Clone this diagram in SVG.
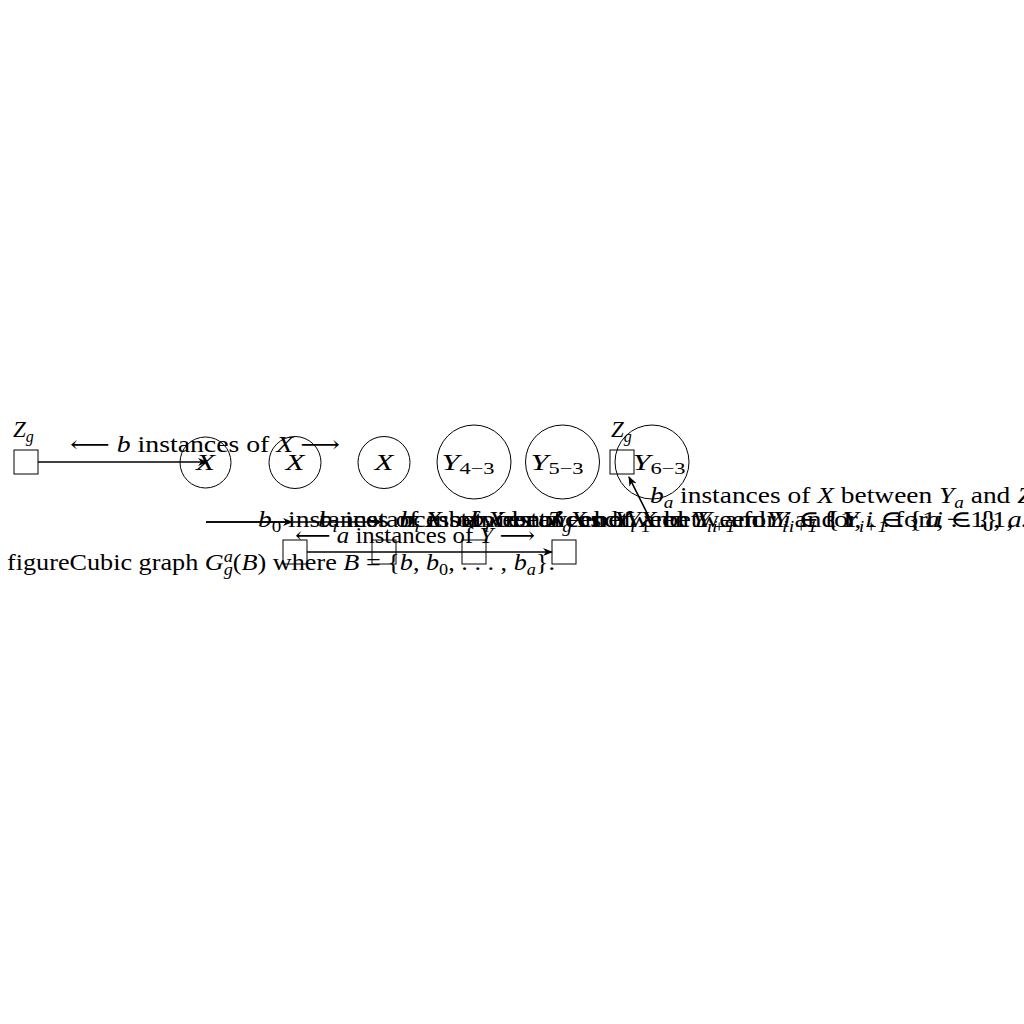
<svg xmlns="http://www.w3.org/2000/svg" width="1024" height="1024" viewBox="0 0 1024 1024">
<style>
text{font-family:"Liberation Serif","DejaVu Serif",serif;font-size:23px;fill:#000}
.i{font-style:italic}
.s{font-size:16px}
.c{text-anchor:middle}
.n{fill:none;stroke:#000;stroke-width:1}
.e{fill:none;stroke:#000;stroke-width:1.6;marker-end:url(#ah)}
</style>
<defs>
<marker id="ah" viewBox="0 0 10 8" refX="9" refY="4" markerWidth="10" markerHeight="8" orient="auto" markerUnits="userSpaceOnUse">
<path d="M0,0 L10,4 L0,8 L3,4 z" fill="#000"/>
</marker>
</defs>
<rect width="1024" height="1024" fill="#fff"/>

<g id="zg1"><rect class="n" x="14" y="450" width="24" height="24"/><text x="13" y="437" class="i">Z<tspan class="s" dy="5">g</tspan></text></g>
<g id="x1"><circle class="n" cx="205.5" cy="462.5" r="25.5"/><text x="205.5" y="470" class="i c" textLength="19" lengthAdjust="spacingAndGlyphs">X</text></g>
<g id="x2"><circle class="n" cx="295" cy="462.5" r="26"/><text x="295" y="470" class="i c" textLength="19" lengthAdjust="spacingAndGlyphs">X</text></g>
<g id="x3"><circle class="n" cx="384" cy="462.5" r="26"/><text x="384" y="470" class="i c" textLength="19" lengthAdjust="spacingAndGlyphs">X</text></g>
<g id="y4"><circle class="n" cx="474" cy="462" r="37"/><text x="468" y="470" class="c" textLength="53" lengthAdjust="spacingAndGlyphs"><tspan class="i">Y</tspan><tspan class="s" dy="4">4−3</tspan></text></g>
<g id="y5"><circle class="n" cx="562.5" cy="462" r="37"/><text x="557" y="470" class="c" textLength="53" lengthAdjust="spacingAndGlyphs"><tspan class="i">Y</tspan><tspan class="s" dy="4">5−3</tspan></text></g>
<g id="y6"><circle class="n" cx="652" cy="462" r="37"/><text x="659" y="470" class="c" textLength="53" lengthAdjust="spacingAndGlyphs"><tspan class="i">Y</tspan><tspan class="s" dy="4">6−3</tspan></text></g>
<g id="zg2"><rect class="n" x="610" y="450" width="24" height="24"/><text x="611" y="437" class="i">Z<tspan class="s" dy="5">g</tspan></text></g>
<g id="s1"><rect class="n" x="283" y="540" width="24" height="24"/></g>
<g id="s2"><rect class="n" x="372" y="540" width="24" height="24"/></g>
<g id="s3"><rect class="n" x="462" y="540" width="24" height="24"/></g>
<g id="s4"><rect class="n" x="552" y="540" width="24" height="24"/></g>

<g id="connectors">
<path class="e" d="M38,462 L207,462"/>
<path class="e" d="M206,522 L292,522"/>
<path class="e" d="M206,522 L382,522"/>
<path class="e" d="M307,552 L552,552"/>
<path class="e" d="M649,517 L629,477"/>
</g>

<g id="labels">
<text x="70" y="452" textLength="270" lengthAdjust="spacingAndGlyphs">⟵ <tspan class="i">b</tspan> instances of <tspan class="i">X</tspan> ⟶</text>
<text x="650" y="503" textLength="392" lengthAdjust="spacingAndGlyphs"><tspan class="i">b</tspan><tspan class="s i" dy="5">a</tspan><tspan dy="-5"> instances of </tspan><tspan class="i">X</tspan> between <tspan class="i">Y</tspan><tspan class="s i" dy="5">a</tspan><tspan dy="-5"> and </tspan><tspan class="i">Z</tspan><tspan class="s i" dy="5">g</tspan></text>
<text x="258" y="527" textLength="392" lengthAdjust="spacingAndGlyphs"><tspan class="i">b</tspan><tspan class="s" dy="5">0</tspan><tspan dy="-5"> instances of </tspan><tspan class="i">X</tspan> between <tspan class="i">Z</tspan><tspan class="s i" dy="5">g</tspan><tspan dy="-5"> and </tspan><tspan class="i">Y</tspan><tspan class="s" dy="5">1</tspan></text>
<text x="318" y="527" textLength="680" lengthAdjust="spacingAndGlyphs"><tspan class="i">b</tspan><tspan class="s i" dy="5">i</tspan><tspan dy="-5"> instances of </tspan><tspan class="i">X</tspan> between <tspan class="i">Y</tspan><tspan class="s i" dy="5">i</tspan><tspan dy="-5"> and </tspan><tspan class="i">Y</tspan><tspan class="s i" dy="5">i+1</tspan><tspan dy="-5"> for </tspan><tspan class="i">i</tspan> ∈ {1, . . . , <tspan class="i">a</tspan> − 1}</text>
<text x="400" y="527" textLength="680" lengthAdjust="spacingAndGlyphs"><tspan class="i">b</tspan><tspan class="s i" dy="5">i</tspan><tspan dy="-5"> instances of </tspan><tspan class="i">X</tspan> between <tspan class="i">Y</tspan><tspan class="s i" dy="5">i</tspan><tspan dy="-5"> and </tspan><tspan class="i">Y</tspan><tspan class="s i" dy="5">i+1</tspan><tspan dy="-5"> for </tspan><tspan class="i">i</tspan> ∈ {1, . . . , <tspan class="i">a</tspan> − 1}</text>
<text x="470" y="527" textLength="680" lengthAdjust="spacingAndGlyphs"><tspan class="i">b</tspan><tspan class="s i" dy="5">i</tspan><tspan dy="-5"> instances of </tspan><tspan class="i">X</tspan> between <tspan class="i">Y</tspan><tspan class="s i" dy="5">i</tspan><tspan dy="-5"> and </tspan><tspan class="i">Y</tspan><tspan class="s i" dy="5">i+1</tspan><tspan dy="-5"> for </tspan><tspan class="i">i</tspan> ∈ {1, . . . , <tspan class="i">a</tspan> − 1}</text>
<text x="295" y="543" textLength="240" lengthAdjust="spacingAndGlyphs">⟵ <tspan class="i">a</tspan> instances of <tspan class="i">Y</tspan> ⟶</text>
<text x="7" y="570" textLength="548" lengthAdjust="spacingAndGlyphs">figureCubic graph <tspan class="i">G</tspan><tspan class="s i" dy="-8">a</tspan><tspan class="s i" dx="-8" dy="13">g</tspan><tspan dy="-5">(</tspan><tspan class="i">B</tspan>) where <tspan class="i">B</tspan> = {<tspan class="i">b</tspan>, <tspan class="i">b</tspan><tspan class="s" dy="5">0</tspan><tspan dy="-5">, . . . , </tspan><tspan class="i">b</tspan><tspan class="s i" dy="5">a</tspan><tspan dy="-5">}.</tspan></text>
</g>
</svg>
